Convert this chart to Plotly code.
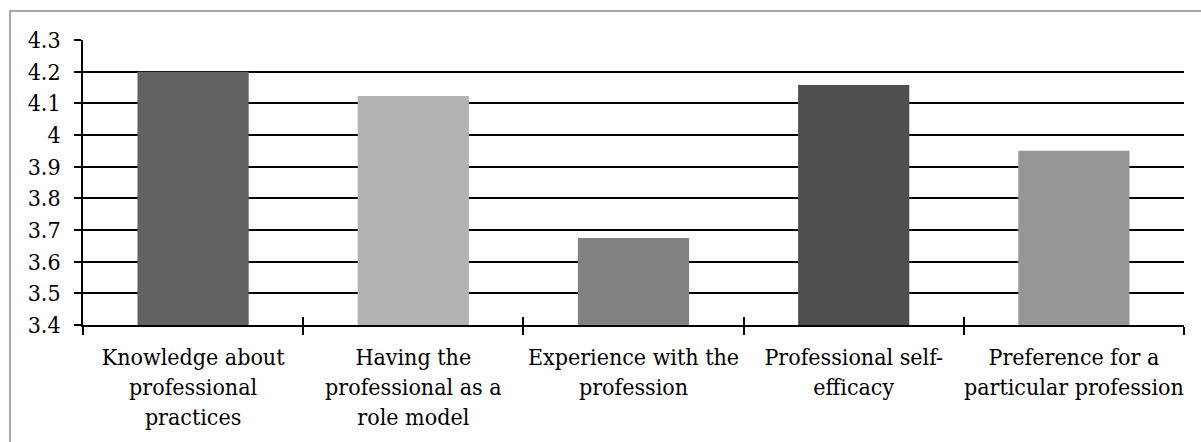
import plotly.graph_objects as go

categories = [
    "Knowledge about<br>professional<br>practices",
    "Having the<br>professional as a<br>role model",
    "Experience with the<br>profession",
    "Professional self-<br>efficacy",
    "Preference for a<br>particular profession",
]
values = [4.20, 4.123, 3.675, 4.158, 3.95]
bar_colors = ["#626262", "#b3b3b3", "#828282", "#4f4f4f", "#969696"]
y_min, y_max, y_step = 3.4, 4.3, 0.1

font = dict(family="DejaVu Serif Condensed", size=23, color="#000000")

fig = go.Figure()
fig.add_trace(go.Bar(x=categories, y=values, marker=dict(color=bar_colors, line=dict(width=0)),
                     showlegend=False, hoverinfo="x+y"))

n = len(categories)
boundaries = [i - 0.5 for i in range(n + 1)]

fig.update_layout(
    width=1201, height=442,
    margin=dict(l=83, r=17, t=40, b=117, autoexpand=False),
    paper_bgcolor="white", plot_bgcolor="white",
    font=font,
    bargap=0.495,
    xaxis=dict(
        type="category", categoryarray=categories, range=[-0.5, n - 0.5],
        showline=True, linecolor="black", linewidth=1.6,
        ticks="outside", ticklen=8, tickwidth=1.6, tickcolor="black",
        tickson="boundaries", showgrid=False, tickfont=font,
        tickangle=0, automargin=False, ticklabelstandoff=11,
    ),
    xaxis2=dict(
        overlaying="x", anchor="y", range=[-0.5, n - 0.5], tickvals=boundaries,
        ticks="inside", ticklen=8, tickwidth=1.6, tickcolor="black",
        showticklabels=False, showgrid=False, showline=False, zeroline=False,
    ),
    yaxis=dict(
        range=[y_min, y_max], dtick=y_step, tick0=y_min,
        showline=True, linecolor="black", linewidth=1.6,
        ticks="outside", ticklen=7, tickwidth=1.6, tickcolor="black",
        showgrid=True, gridcolor="black", gridwidth=1.8, zeroline=False,
        tickfont=font, ticklabelstandoff=9, tickformat="~g", automargin=False,
    ),
    yaxis2=dict(
        overlaying="y", anchor="x", range=[y_min, y_max], dtick=y_step, tick0=y_min,
        ticks="inside", ticklen=7, tickwidth=1.6, tickcolor="black",
        showticklabels=False, showgrid=False, showline=False, zeroline=False,
    ),
    shapes=[dict(type="rect", xref="paper", yref="paper",
                 x0=(10 - 83) / 1101, x1=(1215 - 83) / 1101,
                 y0=(325 - 460) / 285, y1=1 + (40 - 11) / 285,
                 line=dict(color="#8c8c8c", width=1.5), fillcolor="rgba(0,0,0,0)", layer="below")],
)
fig.add_trace(go.Scatter(x=[boundaries[0]], y=[y_min], xaxis="x2", yaxis="y2", mode="markers",
                         marker=dict(opacity=0), showlegend=False, hoverinfo="skip"))

fig.write_html("out.html")
